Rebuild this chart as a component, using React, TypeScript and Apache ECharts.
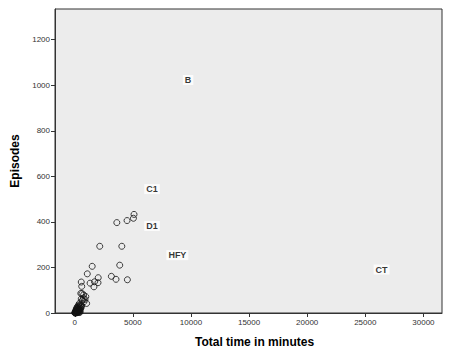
import React, { useEffect, useRef } from "react";
import * as echarts from "echarts";

// Open-circle points: [total time in minutes, episodes]
const points: number[][] = [
  [5100, 433], [5050, 416], [4500, 406], [3620, 397],
  [2150, 293], [4050, 293], [3870, 210], [1500, 205],
  [1080, 172], [2020, 155], [3150, 161], [3550, 148], [4530, 146],
  [1700, 137], [2000, 133], [1320, 131], [1650, 115],
  [560, 136], [600, 117],
  [520, 86], [620, 85], [760, 80], [950, 72], [740, 66], [880, 60], [560, 62],
  [1020, 42], [800, 50], [400, 42], [650, 55],
  [480, 35], [520, 28], [430, 22], [380, 30], [350, 18], [300, 25], [280, 12],
  [250, 20], [220, 8], [200, 15], [180, 5], [150, 10], [120, 3], [100, 7],
  [80, 2], [60, 4], [40, 1], [20, 0], [30, 3], [140, 18], [260, 5], [320, 10],
  [360, 6], [410, 14], [450, 9], [500, 18], [550, 24], [600, 33], [90, 12],
  [170, 22], [230, 28], [330, 35], [10, 1], [70, 8], [110, 0], [200, 2],
  [290, 3], [380, 2], [460, 4],
];

// Labelled cases
const labelNames: string[] = ["B", "C1", "D1", "HFY", "CT"];
const labelX: number[] = [9750, 6650, 6650, 8830, 26400];
const labelY: number[] = [1023, 544, 382, 254, 191];

const xTitle = "Total time in minutes";
const yTitle = "Episodes";

const FONT = "'Liberation Sans', Arial, sans-serif";

export default function App() {
  const ref = useRef<HTMLDivElement>(null);
  useEffect(() => {
    document.body.style.margin = "0";
    if (!ref.current) return;
    const chart = echarts.init(ref.current, undefined, { renderer: "svg" });
    chart.setOption({
      animation: false,
      backgroundColor: "#ffffff",
      grid: {
        left: 55,
        right: 11,
        top: 9,
        bottom: 49,
        show: true,
        backgroundColor: "#ececec",
        borderColor: "#333333",
        borderWidth: 1,
      },
      xAxis: {
        type: "value",
        min: -1700,
        max: 31600,
        splitNumber: 6,
        name: xTitle,
        nameLocation: "middle",
        nameGap: 23,
        nameTextStyle: {
          fontFamily: FONT,
          fontSize: 12,
          fontWeight: "bold",
          color: "#000",
          padding: [0, 0, 0, 12],
        },
        axisLine: { show: true, onZero: false, lineStyle: { color: "#333", width: 1 } },
        axisTick: { show: true, length: 4, lineStyle: { color: "#333" } },
        axisLabel: {
          fontFamily: FONT,
          fontSize: 8,
          color: "#333",
          margin: 5,
          showMinLabel: false,
          showMaxLabel: false,
          formatter: (v: number) => String(v),
        },
        splitLine: { show: false },
      },
      yAxis: {
        type: "value",
        min: 0,
        max: 1335,
        interval: 200,
        name: yTitle,
        nameLocation: "middle",
        nameGap: 29,
        nameTextStyle: {
          fontFamily: FONT,
          fontSize: 12,
          fontWeight: "bold",
          color: "#000",
          padding: [0, 0, 0, 0],
        },
        axisLine: { show: true, onZero: false, lineStyle: { color: "#333", width: 1 } },
        axisTick: { show: true, length: 4, lineStyle: { color: "#333" } },
        axisLabel: {
          fontFamily: FONT,
          fontSize: 8,
          color: "#333",
          margin: 5,
          showMaxLabel: false,
          formatter: (v: number) => String(v),
        },
        splitLine: { show: false },
      },
      series: [
        {
          type: "scatter",
          data: points,
          symbol: "circle",
          symbolSize: 6,
          itemStyle: {
            color: "rgba(0,0,0,0)",
            borderColor: "#111",
            borderWidth: 1,
          },
          silent: true,
        },
        {
          type: "scatter",
          data: labelNames.map((n, i) => ({ name: n, value: [labelX[i], labelY[i]] })),
          symbolSize: 1,
          itemStyle: { color: "rgba(0,0,0,0)" },
          label: {
            show: true,
            position: "inside",
            formatter: (p: any) => p.name,
            fontFamily: FONT,
            fontSize: 9,
            fontWeight: "bold",
            color: "#000",
            backgroundColor: "#ffffff",
            padding: [1, 2, 0, 2],
          },
          silent: true,
        },
      ],
    });
    return () => chart.dispose();
  }, []);
  return <div ref={ref} style={{ width: 453, height: 362 }} />;
}
